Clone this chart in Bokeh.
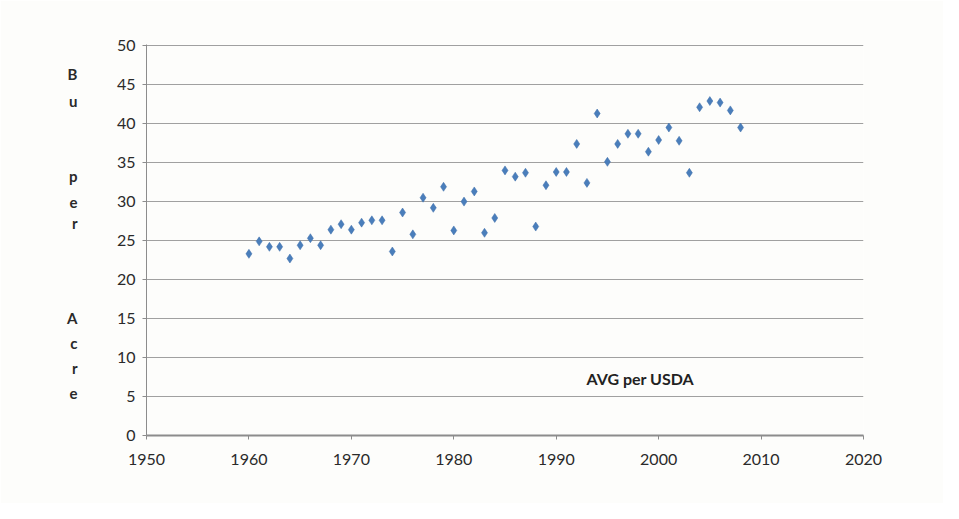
from bokeh.plotting import figure
from bokeh.models import Range1d, FixedTicker, Label, LinearAxis
from bokeh.embed import file_html
from bokeh.resources import INLINE

years = list(range(1960, 2009))
bu_per_acre = [23.3, 24.9, 24.2, 24.2, 22.7, 24.4, 25.3, 24.4, 26.4, 27.1,
               26.4, 27.3, 27.6, 27.6, 23.6, 28.6, 25.8, 30.5, 29.2, 31.9,
               26.3, 30.0, 31.3, 26.0, 27.9, 34.0, 33.2, 33.7, 26.8, 32.1,
               33.8, 33.8, 37.4, 32.4, 41.3, 35.1, 37.4, 38.7, 38.7, 36.4,
               37.9, 39.5, 37.8, 33.7, 42.1, 42.9, 42.7, 41.7, 39.5]
x_ticks = [1950, 1960, 1970, 1980, 1990, 2000, 2010, 2020]
y_ticks = [0, 5, 10, 15, 20, 25, 30, 35, 40, 45, 50]
ylabel_letters = ["B", "u", "p", "e", "r", "A", "c", "r", "e"]
ylabel_letter_y = [46.4, 42.9, 33.3, 29.9, 27.2, 15.1, 11.9, 8.7, 5.4]
annotation_text = "AVG per USDA"

FONT = "Lato"
TXT = "#2a2a2a"

p = figure(width=943, height=503, output_backend="svg", toolbar_location=None,
           x_range=Range1d(1950, 2020), y_range=Range1d(0, 50.15),
           min_border_left=146, min_border_right=80,
           min_border_top=44, min_border_bottom=68)
p.background_fill_color = "#fdfdfb"
p.border_fill_color = "#fdfdfb"
p.outline_line_color = None

p.xaxis.ticker = FixedTicker(ticks=x_ticks)
p.yaxis.ticker = FixedTicker(ticks=y_ticks)
p.xgrid.visible = False
p.ygrid.grid_line_color = "#a0a0a0"
p.ygrid.grid_line_width = 1

for ax in (p.xaxis, p.yaxis):
    ax.axis_line_color = "#8c8c8c"
    ax.major_tick_line_color = "#8c8c8c"
    ax.minor_tick_line_color = None
    ax.major_tick_in = 0
    ax.major_tick_out = 4
    ax.major_label_text_font = FONT
    ax.major_label_text_font_size = "16px"
    ax.major_label_text_color = TXT
p.xaxis.axis_line_width = 2
p.xaxis.major_label_standoff = 14
p.yaxis.major_label_standoff = 7

# stacked single-letter y-axis title, drawn as an extra left axis
letter_axis = LinearAxis(
    ticker=FixedTicker(ticks=ylabel_letter_y),
    major_label_overrides={v: t for v, t in zip(ylabel_letter_y, ylabel_letters)},
    axis_line_color=None, major_tick_line_color=None, minor_tick_line_color=None,
    major_tick_in=0, major_tick_out=0, major_label_standoff=36,
    major_label_text_font=FONT, major_label_text_font_size="15px",
    major_label_text_font_style="bold", major_label_text_color=TXT)
p.add_layout(letter_axis, "left")

p.scatter(years, bu_per_acre, marker="diamond", size=9,
          fill_color="#4a7ebb", line_color="#3c6ca8", line_width=0.5)

p.add_layout(Label(x=1998.2, y=7.3, text=annotation_text, text_font=FONT,
                   text_font_size="16px", text_font_style="bold",
                   text_color="#222222", text_align="center",
                   text_baseline="middle"))

open("out.html", "w").write(file_html(p, INLINE))
